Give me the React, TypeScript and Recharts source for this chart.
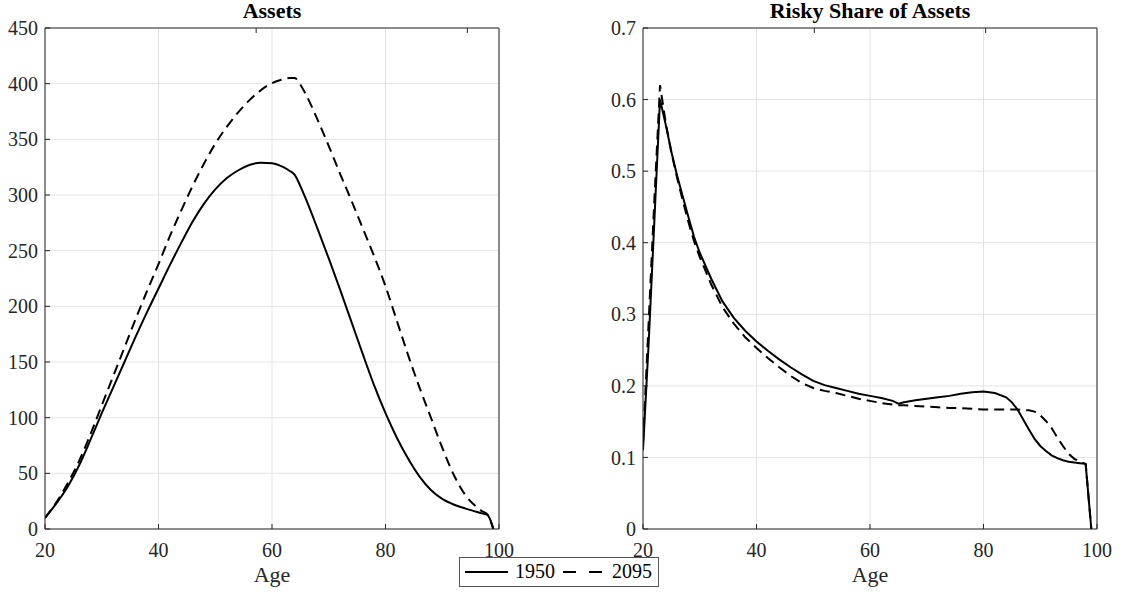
import React from "react";
import { LineChart, Line, XAxis, YAxis, CartesianGrid } from "recharts";

// left panel: assets by age
const ASSET_AGES = [20, 22, 24, 26, 28, 30, 32, 34, 36, 38, 40, 42, 44, 46, 48, 50, 52, 54, 56, 58, 60, 62, 63, 64, 65, 66, 68, 70, 72, 74, 76, 78, 80, 82, 84, 86, 88, 90, 92, 94, 96, 97, 98, 99];
const ASSETS_1950 = [10, 23, 38, 57, 80, 104, 127, 150, 173, 195, 216, 237, 257, 276, 292, 305, 315, 322, 327, 329, 328.5, 325, 322, 318, 308, 296, 270, 243, 215, 186, 157, 129, 104, 82, 63, 47, 35, 27, 22, 18.5, 15.5, 14, 12.5, 0];
const ASSETS_2095 = [10, 24, 41, 61, 85, 111, 137, 163, 189, 214, 238, 263, 286, 308, 328, 346, 361, 374, 385, 394, 400.5, 404, 405, 405, 399, 390, 368, 344, 319, 295, 270, 245, 218, 187, 156, 127, 100, 73, 49, 31, 20, 16, 13, 0];

// right panel: risky share by age
const SHARE_AGES = [20, 21, 22, 23, 24, 25, 26, 27, 28, 29, 30, 32, 34, 36, 38, 40, 42, 44, 46, 48, 50, 52, 54, 56, 58, 60, 62, 64, 65, 66, 68, 70, 72, 74, 76, 78, 80, 82, 84, 85, 86, 87, 88, 89, 90, 91, 92, 93, 94, 95, 96, 97, 98, 99];
const SHARE_1950 = [0.11, 0.26, 0.43, 0.6, 0.565, 0.527, 0.494, 0.465, 0.436, 0.408, 0.386, 0.35, 0.318, 0.295, 0.277, 0.262, 0.249, 0.237, 0.226, 0.216, 0.207, 0.201, 0.197, 0.193, 0.189, 0.186, 0.183, 0.179, 0.175, 0.177, 0.18, 0.182, 0.184, 0.186, 0.189, 0.191, 0.192, 0.19, 0.184, 0.177, 0.167, 0.153, 0.139, 0.126, 0.116, 0.109, 0.103, 0.099, 0.096, 0.094, 0.093, 0.092, 0.091, 0];
const SHARE_2095 = [0.12, 0.29, 0.46, 0.62, 0.568, 0.526, 0.491, 0.459, 0.429, 0.402, 0.38, 0.342, 0.31, 0.287, 0.268, 0.253, 0.239, 0.226, 0.214, 0.204, 0.197, 0.193, 0.19, 0.186, 0.182, 0.179, 0.176, 0.174, 0.173, 0.173, 0.172, 0.171, 0.17, 0.169, 0.169, 0.168, 0.167, 0.167, 0.167, 0.167, 0.167, 0.166, 0.166, 0.164, 0.159, 0.151, 0.141, 0.128, 0.116, 0.105, 0.098, 0.094, 0.091, 0];

const AGE_TICKS = [20, 40, 60, 80, 100];
const ASSET_TICKS = [0, 50, 100, 150, 200, 250, 300, 350, 400, 450];
const SHARE_TICKS = [0, 0.1, 0.2, 0.3, 0.4, 0.5, 0.6, 0.7];
const SERIES = ["1950", "2095"];

const FONT = '"Liberation Serif", "Times New Roman", serif';
const AXIS = "#262626";
const GRID = "#e3e3e3";
const H = 594;

const noTick = () => <g />;

const xTick = (p) => (
  <g>
    <text x={p.x} y={p.y} dy="0.71em" textAnchor="middle" fill={AXIS} fontSize={20} fontFamily="Liberation Serif">
      {p.payload.value}
    </text>
  </g>
);

const yTick = (p) => (
  <g>
    <text x={p.x} y={p.y} dy="0.355em" textAnchor="end" fill={AXIS} fontSize={20} fontFamily="Liberation Serif">
      {p.payload.value}
    </text>
  </g>
);

function Panel({ left, width, marginRight, ages, a, b, yTicks, title, curve }) {
  const data = ages.map((age, i) => ({ age, a: a[i], b: b[i] }));
  const yMax = yTicks[yTicks.length - 1];
  return (
    <div style={{ position: "absolute", left, top: 0, width, height: H }}>
      <LineChart
        width={width}
        height={H}
        data={data}
        margin={{ top: 27, right: marginRight, bottom: 0, left: 0 }}
        style={{ fontFamily: FONT }}
      >
        <CartesianGrid stroke={GRID} />
        <XAxis
          dataKey="age"
          type="number"
          domain={[20, 100]}
          ticks={AGE_TICKS}
          interval={0}
          allowDataOverflow
          height={65}
          tickSize={-5}
          tickMargin={19}
          tick={xTick}
          axisLine={{ stroke: AXIS }}
          tickLine={{ stroke: AXIS }}
        />
        <XAxis
          xAxisId="t"
          orientation="top"
          type="number"
          domain={[20, 100]}
          ticks={AGE_TICKS}
          interval={0}
          height={1}
          tickSize={-5}
          tick={noTick}
          axisLine={{ stroke: AXIS }}
          tickLine={{ stroke: AXIS }}
        />
        <YAxis
          type="number"
          domain={[0, yMax]}
          ticks={yTicks}
          interval={0}
          allowDataOverflow
          width={45}
          tickSize={-5}
          tickMargin={12}
          tick={yTick}
          axisLine={{ stroke: AXIS }}
          tickLine={{ stroke: AXIS }}
        />
        <YAxis
          yAxisId="r"
          orientation="right"
          type="number"
          domain={[0, yMax]}
          ticks={yTicks}
          interval={0}
          width={1}
          tickSize={-5}
          tick={noTick}
          axisLine={{ stroke: AXIS }}
          tickLine={{ stroke: AXIS }}
        />
        <Line type={curve} dataKey="a" name={SERIES[0]} stroke="#000" strokeWidth={2} dot={false} isAnimationActive={false} />
        <Line type={curve} dataKey="b" name={SERIES[1]} stroke="#000" strokeWidth={2} strokeDasharray="10 6" dot={false} isAnimationActive={false} />
      </LineChart>
      <div style={{ position: "absolute", left: 45, width: 454, top: 0, textAlign: "center", fontFamily: FONT, fontWeight: "bold", fontSize: 22, lineHeight: 1, color: "#000" }}>
        {title}
      </div>
      <div style={{ position: "absolute", left: 45, width: 454, top: 564, textAlign: "center", fontFamily: FONT, fontSize: 22, lineHeight: 1, color: AXIS }}>
        Age
      </div>
    </div>
  );
}

function LegendBox() {
  return (
    <svg
      width={200}
      height={30}
      style={{ position: "absolute", left: 459, top: 557, background: "#fff", fontFamily: FONT }}
      fontSize={20}
    >
      <rect x={0.5} y={0.5} width={199} height={29} fill="#fff" stroke="#555" strokeWidth={1} />
      <line x1={6} y1={15} x2={49} y2={15} stroke="#000" strokeWidth={2} />
      <text x={56} y={21} fill="#000">{SERIES[0]}</text>
      <line x1={104} y1={15} x2={143} y2={15} stroke="#000" strokeWidth={2} strokeDasharray="13 13" />
      <text x={153} y={21} fill="#000">{SERIES[1]}</text>
    </svg>
  );
}

export default function App() {
  return (
    <div style={{ position: "absolute", left: 0, top: 0, width: 1123, height: H, background: "#fff", fontFamily: FONT }}>
      <Panel left={0} width={520} marginRight={20} ages={ASSET_AGES} a={ASSETS_1950} b={ASSETS_2095} yTicks={ASSET_TICKS} title="Assets" curve="monotone" />
      <Panel left={598} width={525} marginRight={25} ages={SHARE_AGES} a={SHARE_1950} b={SHARE_2095} yTicks={SHARE_TICKS} title="Risky Share of Assets" curve="linear" />
      <LegendBox />
    </div>
  );
}
